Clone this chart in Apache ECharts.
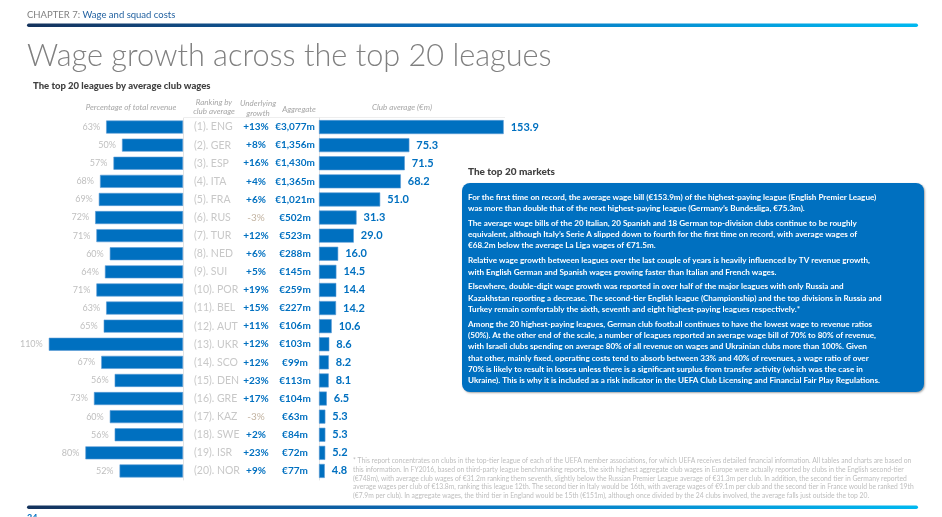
<!DOCTYPE html>
<html>
<head>
<meta charset="utf-8">
<script src="https://cdn.jsdelivr.net/npm/echarts@6/dist/echarts.min.js"></script>
<style>
html,body{margin:0;padding:0;background:#fff;}
#chart{width:942px;height:517px;}
</style>
</head>
<body>
<div id="chart"></div>
<script>
// ---- data ----
var leagues = ['ENG','GER','ESP','ITA','FRA','RUS','TUR','NED','SUI','POR','BEL','AUT','UKR','SCO','DEN','GRE','KAZ','SWE','ISR','NOR'];
var pctRevenue = [63,50,57,68,69,72,71,60,64,71,63,65,110,67,56,73,60,56,80,52];
var growth = [13,8,16,4,6,-3,12,6,5,19,15,11,12,12,23,17,-3,2,23,9];
var aggregate = [3077,1356,1430,1365,1021,502,523,288,145,259,227,106,103,99,113,104,63,84,72,77];
var clubAvg = [153.9,75.3,71.5,68.2,51.0,31.3,29.0,16.0,14.5,14.4,14.2,10.6,8.6,8.2,8.1,6.5,5.3,5.3,5.2,4.8];

var paragraphs = [
 "For the first time on record, the average wage bill (€153.9m) of the highest-paying league (English Premier League)\nwas more than double that of the next highest-paying league (Germany’s Bundesliga, €75.3m).",
 "The average wage bills of the 20 Italian, 20 Spanish and 18 German top-division clubs continue to be roughly\nequivalent, although Italy’s Serie A slipped down to fourth for the first time on record, with average wages of\n€68.2m below the average La Liga wages of €71.5m.",
 "Relative wage growth between leagues over the last couple of years is heavily influenced by TV revenue growth,\nwith English German and Spanish wages growing faster than Italian and French wages.",
 "Elsewhere, double-digit wage growth was reported in over half of the major leagues with only Russia and\nKazakhstan reporting a decrease. The second-tier English league (Championship) and the top divisions in Russia and\nTurkey remain comfortably the sixth, seventh and eight highest-paying leagues respectively.*",
 "Among the 20 highest-paying leagues, German club football continues to have the lowest wage to revenue ratios\n(50%). At the other end of the scale, a number of leagues reported an average wage bill of 70% to 80% of revenue,\nwith Israeli clubs spending on average 80% of all revenue on wages and Ukrainian clubs more than 100%. Given\nthat other, mainly fixed, operating costs tend to absorb between 33% and 40% of revenues, a wage ratio of over\n70% is likely to result in losses unless there is a significant surplus from transfer activity (which was the case in\nUkraine). This is why it is included as a risk indicator in the UEFA Club Licensing and Financial Fair Play Regulations."
];
var paraTops = [191.6, 217.6, 255, 281, 318.6];

var footnote = "* This report concentrates on clubs in the top-tier league of each of the UEFA member associations, for which UEFA receives detailed financial information. All tables and charts are based on\nthis information. In FY2016, based on third-party league benchmarking reports, the sixth highest aggregate club wages in Europe were actually reported by clubs in the English second-tier\n(€748m), with average club wages of €31.2m ranking them seventh, slightly below the Russian Premier League average of €31.3m per club. In addition, the second tier in Germany reported\naverage wages per club of €13.8m, ranking this league 12th. The second tier in Italy would be 16th, with average wages of €9.1m per club and the second tier in France would be ranked 19th\n(€7.9m per club). In aggregate wages, the third tier in England would be 15th (€151m), although once divided by the 24 clubs involved, the average falls just outside the top 20.";

// ---- chart ----
var BLUE = '#0070C0';
var chart = echarts.init(document.getElementById('chart'), null, {renderer:'canvas'});

function grad(){
  return new echarts.graphic.LinearGradient(0,0,1,0,[
    {offset:0,color:'#14325c'},{offset:0.45,color:'#0b6cb8'},{offset:1,color:'#00b8f0'}]);
}

var graphics = [
  {type:'text', style:{x:27, y:15, text:'{a|CHAPTER 7: }{b|Wage and squad costs}', verticalAlign:'middle',
     rich:{a:{fill:'#7f7f7f', fontSize:9.5, fontFamily:'Lato'}, b:{fill:'#1f5f9f', fontSize:9.5, fontFamily:'Lato'}}}},
  {type:'rect', shape:{x:27, y:23.5, width:891, height:3.5, r:1.7}, style:{fill:grad()}},
  {type:'text', style:{x:27, y:56, text:'Wage growth across the top 20 leagues', verticalAlign:'middle',
     fill:'#808080', fontSize:30.7, fontFamily:'Lato', fontWeight:300}},
  {type:'text', style:{x:33, y:86, text:'The top 20 leagues by average club wages', verticalAlign:'middle',
     fill:'#404040', fontSize:9.5, fontFamily:'Lato', fontWeight:900}},
  {type:'text', style:{x:131, y:107.7, text:'Percentage of total revenue', align:'center', verticalAlign:'middle',
     fill:'#a6a6a6', fontSize:8, fontStyle:'italic', fontFamily:'Lato'}},
  {type:'text', style:{x:214, y:107, text:'Ranking by\nclub average', align:'center', verticalAlign:'middle', lineHeight:9.5,
     fill:'#a6a6a6', fontSize:8, fontStyle:'italic', fontFamily:'Lato'}},
  {type:'text', style:{x:258, y:108.3, text:'Underlying\ngrowth', align:'center', verticalAlign:'middle', lineHeight:10,
     fill:'#a6a6a6', fontSize:8, fontStyle:'italic', fontFamily:'Lato'}},
  {type:'text', style:{x:299, y:109.3, text:'Aggregate', align:'center', verticalAlign:'middle',
     fill:'#a6a6a6', fontSize:8, fontStyle:'italic', fontFamily:'Lato'}},
  {type:'text', style:{x:402, y:107.7, text:'Club average (€m)', align:'center', verticalAlign:'middle',
     fill:'#a6a6a6', fontSize:8, fontStyle:'italic', fontFamily:'Lato'}},
  {type:'line', shape:{x1:184, y1:117.5, x2:505, y2:117.5}, style:{stroke:'#eeeeee', lineWidth:1}},
  {type:'text', style:{x:468, y:172, text:'The top 20 markets', verticalAlign:'middle',
     fill:'#404040', fontSize:10, fontFamily:'Lato', fontWeight:900}},
  {type:'rect', shape:{x:462, y:183, width:462, height:209, r:8},
     style:{fill:BLUE, shadowBlur:2, shadowColor:'rgba(0,0,0,0.35)', shadowOffsetX:1, shadowOffsetY:1}},
  {type:'text', style:{x:353, y:456.6, text:footnote, verticalAlign:'top', lineHeight:8.7,
     fill:'#bdbdbd', fontSize:6.75, fontFamily:'Lato'}},
  {type:'rect', shape:{x:27, y:505.5, width:891, height:3.5, r:1.7}, style:{fill:grad()}},
  {type:'text', style:{x:27, y:514, text:'34', verticalAlign:'top', fill:BLUE, fontSize:9, fontWeight:'bold', fontFamily:'Lato'}}
];
paragraphs.forEach(function(p,i){
  graphics.push({type:'text', style:{x:468, y:paraTops[i], text:p, verticalAlign:'top', lineHeight:11.3,
     fill:'#ffffff', fontSize:8.1, fontWeight:'bold', fontFamily:'Lato'}});
});

function fmtAgg(v){ return '€' + v.toLocaleString('en-US') + 'm'; }

var option = {
  animation:false,
  backgroundColor:'#fff',
  textStyle:{fontFamily:'Lato'},
  grid:[
    {left:0, top:118, width:183, height:362, containLabel:false},
    {left:319, top:118, width:240, height:362, containLabel:false}
  ],
  xAxis:[
    {gridIndex:0, type:'value', min:0, max:150, inverse:true, show:false},
    {gridIndex:1, type:'value', min:0, max:200, show:false}
  ],
  yAxis:[
    {gridIndex:0, type:'category', data:leagues, inverse:true, position:'right',
     axisLine:{show:true, lineStyle:{color:'#e4e4e4', width:1}}, axisTick:{show:false}, axisLabel:{show:false}, splitLine:{show:false}},
    {gridIndex:1, type:'category', data:leagues, inverse:true, position:'left',
     axisLine:{show:true, lineStyle:{color:'#e4e4e4', width:1}}, axisTick:{show:false}, splitLine:{show:false},
     axisLabel:{show:true, interval:0, margin:1, align:'right',
       formatter:function(val, idx){
         var g = growth[idx];
         var gs = (g>0?'+':'') + g + '%';
         return '{rank|(' + (idx+1) + '). ' + val + '}{' + (g<0?'gn':'gp') + '|' + gs + '}{agg|' + fmtAgg(aggregate[idx]) + '}';
       },
       rich:{
         rank:{width:46, align:'left', color:'#c8c8c8', fontSize:10.5, fontFamily:'Lato'},
         gp:{width:32, align:'center', color:BLUE, fontSize:10, fontWeight:'bold', fontFamily:'Lato'},
         gn:{width:32, align:'center', color:'#c2b3a1', fontSize:10, fontFamily:'Lato'},
         agg:{width:46, align:'center', color:BLUE, fontSize:10, fontWeight:'bold', fontFamily:'Lato'}
       }}}
  ],
  series:[
    {type:'bar', xAxisIndex:0, yAxisIndex:0, data:pctRevenue, barWidth:13,
     itemStyle:{color:BLUE, borderColor:'#5a9bd5', borderWidth:0.6},
     label:{show:true, position:'left', distance:6, formatter:'{c}%', color:'#bfbfbf', fontSize:9, fontFamily:'Lato'}},
    {type:'bar', xAxisIndex:1, yAxisIndex:1, data:clubAvg, barWidth:14,
     itemStyle:{color:BLUE, borderColor:'#5a9bd5', borderWidth:0.6},
     label:{show:true, position:'right', distance:7, color:BLUE, fontSize:11, fontWeight:'bold', fontFamily:'Lato',
       formatter:function(p){ return p.value.toFixed(1); }}}
  ],
  graphic:{elements:graphics}
};
chart.setOption(option);
</script>
</body>
</html>
